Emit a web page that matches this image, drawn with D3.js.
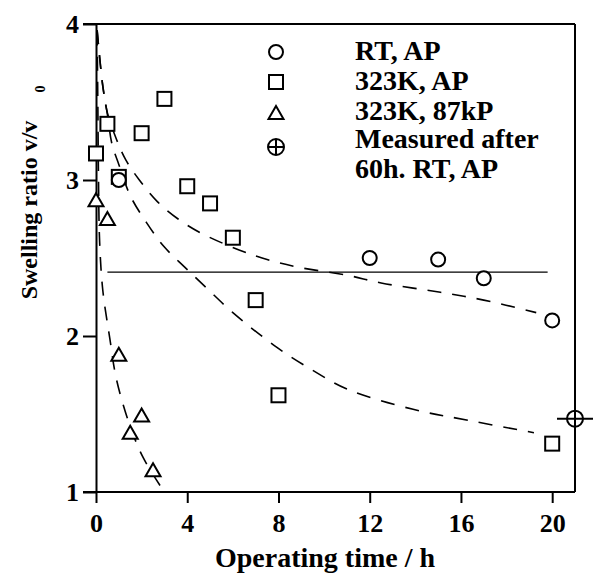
<!DOCTYPE html>
<html>
<head>
<meta charset="utf-8">
<script src="https://cdn.jsdelivr.net/npm/d3@7"></script>
<style>
body { margin: 0; background: #fff; }
svg text { font-family: "Liberation Serif", "Times New Roman", serif; font-weight: bold; fill: #000; }
</style>
</head>
<body>
<div id="chart"></div>
<script>
// measured points
var rtTime = [1, 12, 15, 17, 20];
var rtRatio = [3.0, 2.5, 2.49, 2.37, 2.1];
var apTime = [0, 0.5, 1, 2, 3, 4, 5, 6, 7, 8, 20];
var apRatio = [3.17, 3.36, 3.02, 3.30, 3.52, 2.96, 2.85, 2.63, 2.23, 1.62, 1.31];
var kpTime = [0, 0.5, 1, 1.5, 2, 2.5];
var kpRatio = [2.87, 2.75, 1.88, 1.38, 1.49, 1.14];
var afterTime = [21];
var afterRatio = [1.47];

// fitted dashed curves
var fitRtTime = [0.05, 0.15, 0.3, 0.5, 0.9, 1.3, 1.9, 2.7, 3.6, 4.6, 6.3, 7.5, 8.9, 11, 12.5, 15.1, 17, 19.3];
var fitRtRatio = [3.96, 3.8, 3.6, 3.43, 3.26, 3.13, 3.0, 2.86, 2.75, 2.66, 2.55, 2.49, 2.44, 2.39, 2.34, 2.28, 2.23, 2.15];
var fitApTime = [0.05, 0.15, 0.3, 0.5, 0.7, 1.0, 1.5, 2.2, 3.0, 3.9, 4.9, 6.0, 7.9, 9.5, 11, 13.9, 16.3, 19.2];
var fitApRatio = [3.96, 3.8, 3.6, 3.42, 3.23, 3.1, 2.9, 2.73, 2.57, 2.44, 2.3, 2.15, 1.93, 1.78, 1.66, 1.53, 1.46, 1.38];
var fitKpTime = [0.05, 0.08, 0.11, 0.16, 0.3, 0.6, 0.9, 1.5, 2.07, 2.95];
var fitKpRatio = [3.95, 3.5, 3.0, 2.6, 2.29, 1.99, 1.72, 1.42, 1.22, 1.01];

var refRatio = 2.41;
var refTime = [0.5, 19.8];

var xTicks = [0, 4, 8, 12, 16, 20];
var yTicks = [1, 2, 3, 4];
var legendLabels = ["RT, AP", "323K, AP", "323K, 87kP", "Measured after", "60h. RT, AP"];

var width = 594, height = 575;
var svg = d3.select("#chart").append("svg")
    .attr("width", width)
    .attr("height", height);

var x = d3.scaleLinear().domain([0, 21]).range([96, 575]);
var y = d3.scaleLinear().domain([1, 4]).range([492, 24]);

function pts(xs, ys) {
  return xs.map(function(d, i) { return [d, ys[i]]; });
}

// frame
var frame = svg.append("g").attr("stroke", "#000").attr("stroke-width", 2).attr("fill", "none");
frame.append("line").attr("x1", x(0) - 13).attr("x2", x(21)).attr("y1", y(4)).attr("y2", y(4));
frame.append("line").attr("x1", x(21)).attr("x2", x(21)).attr("y1", y(4)).attr("y2", y(1));

var yAxis = svg.append("g")
    .attr("transform", "translate(" + x(0) + ",0)")
    .call(d3.axisLeft(y).tickValues(yTicks).tickSize(13).tickSizeOuter(0).tickFormat(d3.format("d")));
var xAxis = svg.append("g")
    .attr("transform", "translate(0," + y(1) + ")")
    .call(d3.axisBottom(x).tickValues(xTicks).tickSize(11).tickSizeOuter(0).tickFormat(d3.format("d")));

[xAxis, yAxis].forEach(function(a) {
  a.select(".domain").attr("stroke", "#000").attr("stroke-width", 2);
  a.selectAll(".tick line").attr("stroke", "#000").attr("stroke-width", 2);
  a.selectAll("text").attr("font-size", 26).attr("font-family", null).attr("fill", "#000");
});
xAxis.select(".domain").attr("d", "M" + (x(0) - 13) + ",0H" + x(21));
yAxis.selectAll("text").attr("x", -17).attr("dy", "0.34em");
xAxis.selectAll("text").attr("y", 40).attr("dy", 0);

// axis titles
svg.append("text")
    .attr("x", 325).attr("y", 567)
    .attr("text-anchor", "middle")
    .attr("font-size", 28)
    .text("Operating time / h");
svg.append("text")
    .attr("transform", "translate(37,210) rotate(-90)")
    .attr("text-anchor", "middle")
    .attr("font-size", 24)
    .text("Swelling ratio v/v");
svg.append("text")
    .attr("transform", "translate(45,89) rotate(-90)")
    .attr("text-anchor", "middle")
    .attr("font-size", 14)
    .text("0");

// reference line
svg.append("line")
    .attr("x1", x(refTime[0])).attr("x2", x(refTime[1]))
    .attr("y1", y(refRatio)).attr("y2", y(refRatio))
    .attr("stroke", "#000").attr("stroke-width", 1.2);

// dashed fits
var line = d3.line()
    .x(function(d) { return x(d[0]); })
    .y(function(d) { return y(d[1]); })
    .curve(d3.curveCatmullRom);

[pts(fitRtTime, fitRtRatio), pts(fitApTime, fitApRatio), pts(fitKpTime, fitKpRatio)].forEach(function(p) {
  svg.append("path")
      .attr("d", line(p))
      .attr("fill", "none")
      .attr("stroke", "#000")
      .attr("stroke-width", 1.6)
      .attr("stroke-dasharray", "14,11");
});

// markers
var triPath = "M0,-7L7.5,6L-7.5,6Z";

function drawCircle(g, cx, cy) {
  g.append("circle").attr("cx", cx).attr("cy", cy).attr("r", 7)
    .attr("fill", "#fff").attr("stroke", "#000").attr("stroke-width", 2);
}
function drawSquare(g, cx, cy) {
  g.append("rect").attr("x", cx - 7).attr("y", cy - 7).attr("width", 14).attr("height", 14)
    .attr("fill", "#fff").attr("stroke", "#000").attr("stroke-width", 2);
}
function drawTriangle(g, cx, cy) {
  g.append("path").attr("d", triPath).attr("transform", "translate(" + cx + "," + cy + ")")
    .attr("fill", "#fff").attr("stroke", "#000").attr("stroke-width", 2);
}
function drawCross(g, cx, cy, ext) {
  g.append("circle").attr("cx", cx).attr("cy", cy).attr("r", 8)
    .attr("fill", "#fff").attr("stroke", "#000").attr("stroke-width", 2);
  g.append("line").attr("x1", cx - ext).attr("x2", cx + ext).attr("y1", cy).attr("y2", cy)
    .attr("stroke", "#000").attr("stroke-width", 2);
  g.append("line").attr("x1", cx).attr("x2", cx).attr("y1", cy - 8).attr("y2", cy + 8)
    .attr("stroke", "#000").attr("stroke-width", 2);
}

var marks = svg.append("g");
apTime.forEach(function(t, i) { drawSquare(marks, x(t), y(apRatio[i])); });
rtTime.forEach(function(t, i) { drawCircle(marks, x(t), y(rtRatio[i])); });
kpTime.forEach(function(t, i) { drawTriangle(marks, x(t), y(kpRatio[i])); });
afterTime.forEach(function(t, i) { drawCross(marks, x(t), y(afterRatio[i]), 18); });

// legend
var legend = svg.append("g");
drawCircle(legend, 276, 52);
drawSquare(legend, 276, 82);
drawTriangle(legend, 276, 113);
drawCross(legend, 276, 147, 8);

var legendY = [60, 90, 120, 148, 178];
legend.selectAll("text")
    .data(legendLabels)
    .enter().append("text")
    .attr("x", 355)
    .attr("y", function(d, i) { return legendY[i]; })
    .attr("font-size", 28)
    .text(function(d) { return d; });
</script>
</body>
</html>
